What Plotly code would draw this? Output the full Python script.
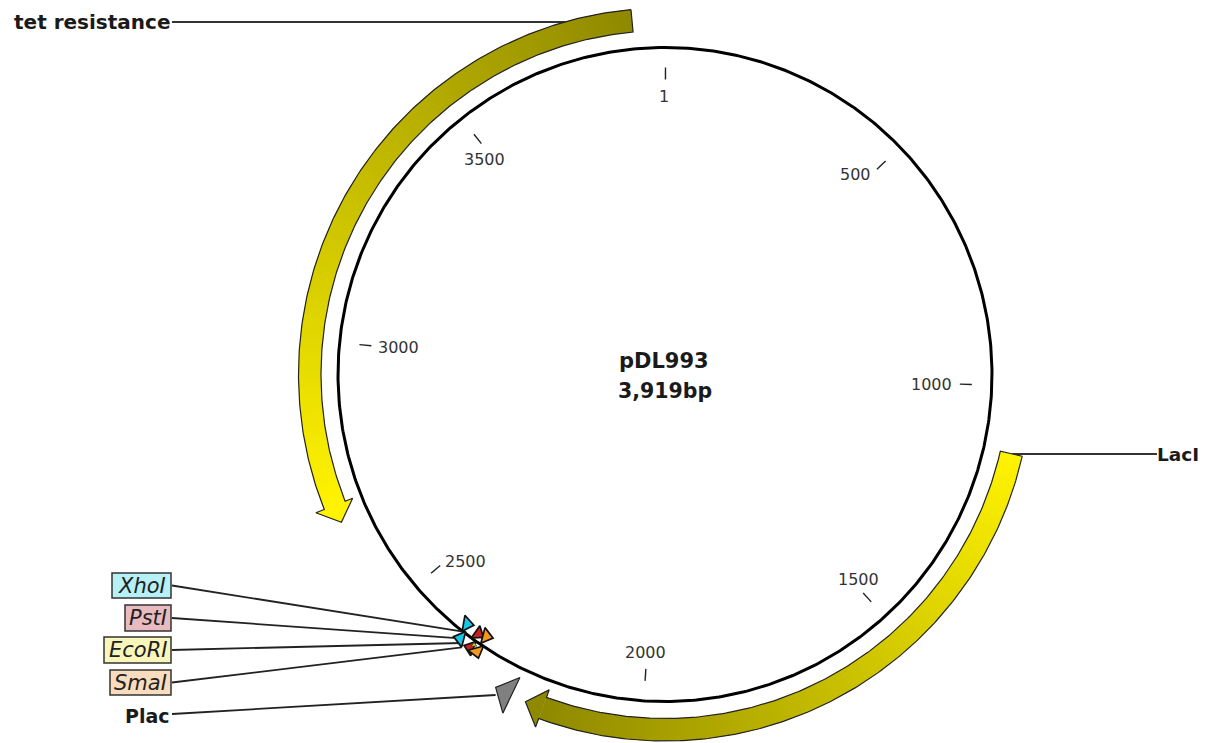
import numpy as np
import plotly.graph_objects as go

# ---- data ----
plasmid_name = "pDL993"
plasmid_size = 3919
size_label = "3,919bp"

tick_bp = [1, 500, 1000, 1500, 2000, 2500, 3000, 3500]
tick_labels = ["1", "500", "1000", "1500", "2000", "2500", "3000", "3500"]

feature_names = ["tet resistance", "LacI"]
feature_start = [3861, 1120]
feature_end = [2672, 2211]

promoter_name = "Plac"
promoter_start = 2238
promoter_end = 2269

site_names = ["XhoI", "XhoI", "PstI", "PstI", "SmaI", "SmaI", "EcoRI"]
site_bp = [2378, 2371, 2349, 2346, 2333, 2332, 2343]

enzyme_names = ["XhoI", "PstI", "EcoRI", "SmaI"]

# ---- layout constants ----
W, H = 1209, 743
CX, CY, R = 665, 374.5, 327
TICK_IN, TICK_OUT = 295, 307
BAND_IN, BAND_OUT = 344, 366.5
HEAD_IN, HEAD_OUT = 336, 375.5
HEAD_BP = 32
TICK_OFFSETS = [(-1, 17), (-21, 5), (-28, 0), (-5, -14), (0, -16), (25, -4), (27, 2), (3, 16)]
FONT = "DejaVu Sans"
SITE_R = [318.5, 334, 319.5, 335.5, 317, 335, 331]
SITE_ANGLE = [100, -75, 125, -70, 105, 165, 0]
SITE_COLOR = ["#19C8E8", "#19C8E8", "#C8201E", "#C8201E", "#F5981E", "#F5981E", "#C8D020"]
SITE_SIZE = [14, 14, 13, 13, 14, 14, 5]
SITE_LINE = [1.7, 1.7, 1.7, 1.7, 1.7, 1.7, 0.5]
LEADER_END = [(463, 631.7), (460, 638.3), (461.7, 643), (461.7, 647.3)]
BOX = [(112, 573, "#B5F1F6"), (125, 605, "#E9BBC0"), (104, 637, "#F9F6BB"), (110, 670, "#F9DCBE")]
BOX_BOTTOM = [598, 631, 663, 695]
LABEL_X = 171


def polar(bp, r):
    t = np.asarray(bp, dtype=float) / plasmid_size * 2 * np.pi
    return CX + r * np.sin(t), CY - r * np.cos(t)


def lerp(a, b, f):
    return "rgb(%d,%d,%d)" % tuple(int(round(a[i] + (b[i] - a[i]) * f)) for i in range(3))


fig = go.Figure()


def add_line(x, y, color="#111111", width=1.5):
    fig.add_trace(go.Scatter(x=list(x), y=list(y), mode="lines",
                             line=dict(color=color, width=width), hoverinfo="skip"))


def add_poly(x, y, fill, line=None, width=0.0):
    fig.add_trace(go.Scatter(x=list(x), y=list(y), mode="lines", fill="toself",
                             fillcolor=fill, line=dict(color=line or fill, width=width),
                             hoverinfo="skip"))


# backbone
bb = np.linspace(0, plasmid_size, 721)
x, y = polar(bb, R)
add_line(x, y, "#000000", 3)

# ticks
for bp in tick_bp:
    x0, y0 = polar(bp, TICK_IN)
    x1, y1 = polar(bp, TICK_OUT)
    add_line([x0, x1], [y0, y1], "#222222", 1.4)

# leader lines for features (behind the bands)
add_line([LABEL_X + 1, 590], [22, 22], "#333333", 1.8)
add_line([1012, 1157], [454, 454], "#333333", 1.8)

# features with a gradient along the arc
OLIVE = (143, 137, 0)
YELLOW = (255, 243, 0)
for name, s, e in zip(feature_names, feature_start, feature_end):
    sign = 1 if e > s else -1
    head_base = e - sign * HEAD_BP
    n = 120
    edges = np.linspace(s, head_base, n + 1)
    c0, c1 = (OLIVE, YELLOW) if sign < 0 else (YELLOW, OLIVE)
    for i in range(n):
        seg = np.linspace(edges[i], edges[min(i + 2, n)], 3)
        xo, yo = polar(seg, BAND_OUT)
        xi, yi = polar(seg[::-1], BAND_IN)
        add_poly(np.r_[xo, xi], np.r_[yo, yi], lerp(c0, c1, (i + 0.5) / n))
    hb_o = polar(head_base, HEAD_OUT)
    hb_i = polar(head_base, HEAD_IN)
    tip = polar(e, (HEAD_IN + HEAD_OUT) / 2)
    add_poly([hb_o[0], tip[0], hb_i[0]], [hb_o[1], tip[1], hb_i[1]], lerp(c0, c1, 1))
    # outline
    arc = np.linspace(s, head_base, 200)
    xo, yo = polar(arc, BAND_OUT)
    xi, yi = polar(arc[::-1], BAND_IN)
    add_line(np.r_[xo, hb_o[0], tip[0], hb_i[0], xi, xo[0]],
             np.r_[yo, hb_o[1], tip[1], hb_i[1], yi, yo[0]], "#222222", 1.2)

# promoter
p_o = polar(promoter_start, HEAD_OUT)
p_i = polar(promoter_start, HEAD_IN)
p_t = polar(promoter_end, (HEAD_IN + HEAD_OUT) / 2)
add_poly([p_o[0], p_t[0], p_i[0], p_o[0]], [p_o[1], p_t[1], p_i[1], p_o[1]], "#808080", "#222222", 1.2)
add_line([LABEL_X + 1, p_t[0]], [714, 695], "#222222", 1.8)

# enzyme leader lines
for (x1, y1), (bx, by, _), b in zip(LEADER_END, BOX, BOX_BOTTOM):
    add_line([LABEL_X + 1, x1], [(by + b) / 2, y1], "#222222", 1.8)

# restriction-site triangles
for bp, r, ang, col, sz, lw in zip(site_bp, SITE_R, SITE_ANGLE, SITE_COLOR, SITE_SIZE, SITE_LINE):
    sx, sy = polar(bp, r)
    fig.add_trace(go.Scatter(x=[sx], y=[sy], mode="markers", hoverinfo="skip",
                             marker=dict(symbol="triangle-up", size=sz, angle=ang, color=col,
                                         line=dict(color="#111111", width=lw))))

ann = []
# tick labels
for bp, lab, (dx, dy) in zip(tick_bp, tick_labels, TICK_OFFSETS):
    tx, ty = polar(bp, TICK_IN)
    ann.append(dict(x=float(tx) + dx, y=float(ty) + dy, text=lab, showarrow=False,
                    font=dict(family=FONT, size=16, color="#333333"),
                    xanchor="center", yanchor="middle"))
# centre text
ann.append(dict(x=CX - 1, y=361, text=plasmid_name, showarrow=False,
                font=dict(family=FONT, size=21, color="#1a1a1a", weight="bold")))
ann.append(dict(x=CX, y=391, text=size_label, showarrow=False,
                font=dict(family=FONT, size=20.5, color="#1a1a1a", weight="bold")))
# feature names
ann.append(dict(x=LABEL_X + 1, y=22, text=feature_names[0], showarrow=False, xanchor="right",
                font=dict(family=FONT, size=20, color="#1a1a1a", weight="bold")))
ann.append(dict(x=1155, y=454, text=feature_names[1], showarrow=False, xanchor="left",
                font=dict(family=FONT, size=18.5, color="#1a1a1a", weight="bold")))
ann.append(dict(x=LABEL_X + 1, y=716, text=promoter_name, showarrow=False, xanchor="right",
                font=dict(family=FONT, size=19, color="#1a1a1a", weight="bold")))
# boxed enzyme names
shapes = []
for name, (bx, by, col), b in zip(enzyme_names, BOX, BOX_BOTTOM):
    shapes.append(dict(type="rect", x0=bx, x1=LABEL_X, y0=by, y1=b, fillcolor=col,
                       line=dict(color="#333333", width=1.5), layer="above"))
    ann.append(dict(x=(bx + LABEL_X) / 2, y=(by + b) / 2, text="<i>%s</i>" % name, showarrow=False,
                    font=dict(family=FONT, size=21, color="#222222")))

fig.update_layout(
    width=W, height=H, margin=dict(l=0, r=0, t=0, b=0),
    paper_bgcolor="white", plot_bgcolor="white", showlegend=False,
    xaxis=dict(range=[0, W], visible=False, fixedrange=True),
    yaxis=dict(range=[H, 0], visible=False, fixedrange=True),
    annotations=ann, shapes=shapes,
)
fig.write_html("out.html", config={"displayModeBar": False},
               post_script="document.body.style.margin='0';")
